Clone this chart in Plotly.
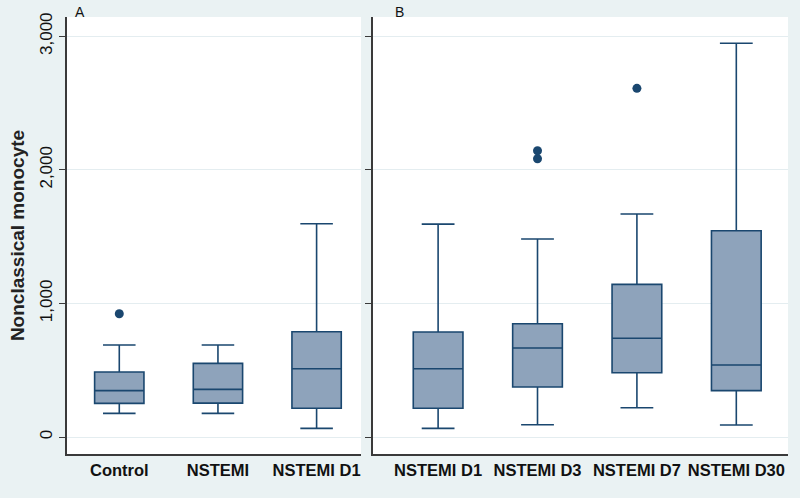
import plotly.graph_objects as go

# ---- data ----
cats_a = ["Control", "NSTEMI", "NSTEMI D1"]
lower_a = [177, 177, 65]
q1_a = [252, 254, 215]
med_a = [347, 357, 511]
q3_a = [487, 551, 788]
upper_a = [689, 689, 1597]
out_a_x = ["Control"]
out_a_y = [923]

cats_b = ["NSTEMI D1", "NSTEMI D3", "NSTEMI D7", "NSTEMI D30"]
lower_b = [65, 92, 219, 90]
q1_b = [215, 374, 481, 347]
med_b = [511, 666, 739, 539]
q3_b = [786, 848, 1143, 1544]
upper_b = [1594, 1482, 1669, 2947]
out_b_x = ["NSTEMI D3", "NSTEMI D3", "NSTEMI D7"]
out_b_y = [2143, 2083, 2610]

yticks = [0, 1000, 2000, 3000]

NAVY = "#1a476f"
FILL = "#8ea3bb"
BG = "#eaf2f3"
AXC = "#3a3a3a"
FONT = "Liberation Sans, Arial, sans-serif"

fig = go.Figure()

def add_panel(cats, lo, q1, md, q3, up, ox, oy, xa, ya):
    pos = list(range(len(cats)))
    fig.add_trace(go.Box(
        x=pos, lowerfence=lo, q1=q1, median=md, q3=q3, upperfence=up,
        width=0.5, whiskerwidth=0.66, fillcolor=FILL,
        line=dict(color=NAVY, width=1.6), boxpoints=False,
        xaxis=xa, yaxis=ya, showlegend=False, hoverinfo="skip"))
    fig.add_trace(go.Scatter(
        x=[cats.index(c) for c in ox], y=oy, mode="markers",
        marker=dict(color=NAVY, size=9), xaxis=xa, yaxis=ya,
        showlegend=False, hoverinfo="skip"))

add_panel(cats_a, lower_a, q1_a, med_a, q3_a, upper_a, out_a_x, out_a_y, "x", "y")
add_panel(cats_b, lower_b, q1_b, med_b, q3_b, upper_b, out_b_x, out_b_y, "x2", "y2")

ydom = [(498 - 454) / 498, (498 - 17) / 498]
yrange = [-127, 3144]

common_y = dict(range=yrange, tickvals=yticks, tickformat=",d", showgrid=True,
                gridcolor="#e4edf0", gridwidth=1, zeroline=False,
                showline=True, linecolor=AXC, linewidth=1.5,
                ticks="outside", ticklen=6, tickcolor=AXC, tickwidth=1.3,
                domain=ydom, automargin=False)
common_x = dict(showgrid=False, zeroline=False, showline=True, linecolor=AXC,
                linewidth=1.5, ticks="", automargin=False,
                tickfont=dict(family=FONT, size=16.5, color="#111"))

fig.update_layout(
    width=800, height=498,
    margin=dict(l=0, r=0, t=0, b=0),
    paper_bgcolor=BG, plot_bgcolor="white",
    font=dict(family=FONT, color="#222"),
    xaxis=dict(common_x, domain=[67 / 800, 361 / 800], range=[-0.53, 2.45],
               tickvals=list(range(len(cats_a))),
               ticktext=["<b>%s</b>" % c for c in cats_a]),
    xaxis2=dict(common_x, domain=[373 / 800, 788 / 800], range=[-0.655, 3.52],
                tickvals=list(range(len(cats_b))),
                ticktext=["<b>%s</b>" % c for c in cats_b], anchor="y2"),
    yaxis=dict(common_y, anchor="x", tickangle=-90,
               tickfont=dict(family=FONT, size=17, color="#111"),
               title=dict(text="<b>Nonclassical monocyte</b>",
                          font=dict(family=FONT, size=19, color="#222"),
                          standoff=8)),
    yaxis2=dict(common_y, anchor="x2", showticklabels=False, matches="y"),
    annotations=[
        dict(text="A", x=79.5 / 800, y=(498 - 12.5) / 498, xref="paper", yref="paper",
             xanchor="center", yanchor="middle", showarrow=False,
             font=dict(family=FONT, size=14, color="#111")),
        dict(text="B", x=399 / 800, y=(498 - 12.5) / 498, xref="paper", yref="paper",
             xanchor="center", yanchor="middle", showarrow=False,
             font=dict(family=FONT, size=14, color="#111")),
    ],
)

fig.write_html("out.html",
               config={"displayModeBar": False},
               post_script="document.body.style.margin='0';"
                           "document.body.style.overflow='hidden';")
